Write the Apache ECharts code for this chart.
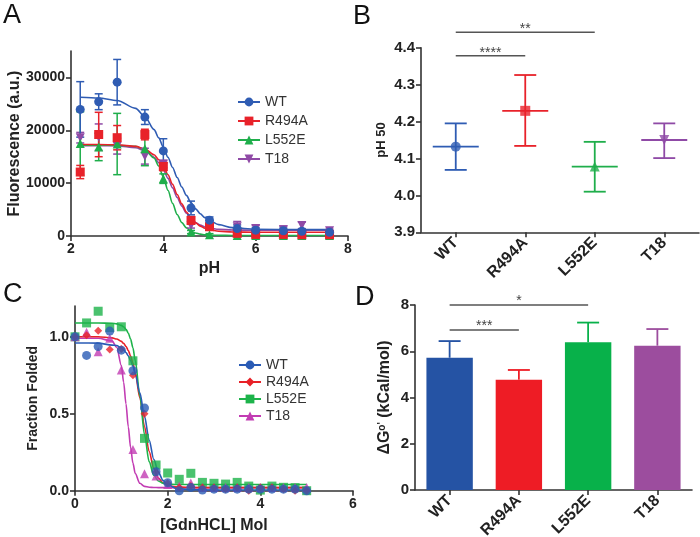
<!DOCTYPE html>
<html><head><meta charset="utf-8">
<script src="https://cdn.jsdelivr.net/npm/echarts@6/dist/echarts.min.js"></script>
<style>html,body{margin:0;padding:0;background:#fff}#c{width:700px;height:537px}</style>
</head><body><div id="c"></div>
<script>
// ---------- Panel A data ----------
const phA = [2.2, 2.6, 3.0, 3.6, 4.0, 4.6, 5.0, 5.6, 6.0, 6.6, 7.0, 7.6];
const wtA = [23950, 25400, 29100, 22500, 16100, 5300, 3000, 1400, 1100, 1000, 900, 700];
const wtAErr = [5250, 1500, 4300, 1400, 2300, 1300, 600, 700, 500, 500, 400, 300];
const r494A = [12100, 19200, 18600, 19200, 13150, 2950, 1750, 500, 300, 300, 250, 250];
const r494AErr = [1250, 4200, 2300, 1000, 800, 700, 400, 300, 200, 200, 200, 200];
const l552A = [17500, 16850, 17400, 16500, 10850, 750, 250, 100, 100, 100, 100, 100];
const l552AErr = [6000, 2600, 5800, 3200, 900, 300, 200, 100, 100, 100, 100, 100];
const t18A = [18600, 18700, 17000, 15100, 13600, 2000, 1700, 1750, 1400, 1200, 2000, 1000];
const t18AErr = [1000, 2500, 1500, 1500, 700, 500, 500, 1000, 600, 700, 600, 300];
// fitted curves
const fitPhA = [2.2, 2.6, 3.0, 3.4, 3.6, 3.8, 3.9, 4.0, 4.1, 4.2, 4.3, 4.4, 4.5, 4.6, 4.7, 4.8, 4.9, 5.0, 5.2, 5.5, 6.0, 7.0, 7.6];
const wtFitA = [26240, 26110, 25640, 24140, 22550, 20120, 18560, 16810, 14900, 12970, 11060, 9270, 7680, 6300, 5140, 4210, 3480, 2920, 2150, 1580, 1280, 1200, 1200];
const r494FitA = [17300, 17300, 17250, 16960, 16470, 15360, 14430, 13170, 11590, 9760, 7860, 6080, 4550, 3360, 2480, 1870, 1460, 1190, 900, 750, 700, 700, 700];
const l552FitA = [17200, 17200, 17180, 16950, 16380, 14770, 13230, 11130, 8650, 6170, 4070, 2530, 1530, 920, 560, 350, 240, 180, 120, 100, 100, 100, 100];
const t18FitA = [17100, 17100, 17050, 16710, 16150, 14910, 13890, 12540, 10910, 9100, 7290, 5660, 4320, 3290, 2550, 2050, 1710, 1490, 1260, 1140, 1100, 1100, 1100];

// ---------- Panel B data ----------
const cats = ['WT', 'R494A', 'L552E', 'T18'];
const pH50 = [4.132, 4.229, 4.078, 4.150];
const pH50Lo = [4.069, 4.134, 4.010, 4.101];
const pH50Hi = [4.195, 4.326, 4.145, 4.195];
const sigBFrom = ['WT', 'WT'];
const sigBTo = ['L552E', 'R494A'];
const sigBLevel = [4.442, 4.378];
const sigBText = ['**', '****'];

// ---------- Panel C data ----------
const gdnC = [0, 0.25, 0.5, 0.75, 1, 1.25, 1.5, 1.75, 2, 2.25, 2.5, 2.75, 3, 3.25, 3.5, 3.75, 4, 4.25, 4.5, 4.75, 5];
const wtC = [1.0, 0.879, 0.937, 1.037, 0.913, 0.779, 0.537, 0.123, 0.052, 0.0, 0.02, 0.004, 0.01, 0.01, 0.01, 0.01, 0.01, 0.01, 0.01, 0.01, 0.0];
const r494C = [1.0, 1.01, 1.04, 0.918, 0.92, 0.75, 0.5, 0.12, 0.05, 0.02, 0.03, 0.02, 0.02, 0.01, 0.02, 0.0, 0.02, 0.02, 0.01, 0.0, 0.0];
const l552C = [1.0, 1.09, 1.166, 1.06, 1.065, 0.844, 0.34, 0.167, 0.115, 0.074, 0.113, 0.054, 0.048, 0.043, 0.054, 0.03, 0.004, 0.03, 0.022, 0.02, 0.0];
const t18C = [1.0, 1.03, 0.903, 0.99, 0.784, 0.268, 0.11, 0.095, 0.04, 0.03, 0.05, 0.02, 0.02, 0.02, 0.02, 0.02, 0.02, 0.02, 0.02, 0.02, 0.02];
const fitGdnC = [0, 0.5, 0.8, 0.9, 1.0, 1.05, 1.1, 1.15, 1.2, 1.25, 1.3, 1.4, 1.5, 1.6, 1.7, 1.8, 1.9, 2.0, 2.2, 2.5, 3.0, 4.0, 5.0];
const wtFitC = [0.96, 0.959, 0.946, 0.943, 0.927, 0.915, 0.898, 0.876, 0.846, 0.808, 0.760, 0.636, 0.483, 0.329, 0.204, 0.119, 0.067, 0.038, 0.014, 0.006, 0.005, 0.005, 0.005];
const r494FitC = [1.0, 1.0, 0.993, 0.986, 0.970, 0.957, 0.938, 0.911, 0.875, 0.827, 0.765, 0.603, 0.417, 0.255, 0.145, 0.082, 0.050, 0.034, 0.023, 0.02, 0.02, 0.02, 0.02];
const l552FitC = [1.09, 1.09, 1.088, 1.084, 1.074, 1.065, 1.049, 1.024, 0.985, 0.928, 0.847, 0.617, 0.365, 0.189, 0.100, 0.063, 0.049, 0.043, 0.040, 0.04, 0.04, 0.04, 0.04];
const t18FitC = [0.99, 0.99, 0.973, 0.932, 0.813, 0.705, 0.565, 0.415, 0.281, 0.180, 0.112, 0.048, 0.028, 0.022, 0.021, 0.02, 0.02, 0.02, 0.02, 0.02, 0.02, 0.02, 0.02];

// ---------- Panel D data ----------
const dG = [5.72, 4.77, 6.39, 6.24];
const dGErr = [0.72, 0.42, 0.85, 0.72];
const sigDFrom = ['WT', 'WT'];
const sigDTo = ['L552E', 'R494A'];
const sigDLevel = [8.0, 6.92];
const sigDText = ['*', '***'];

// ---------- tick labels ----------
const ticksA = [0, 10000, 20000, 30000];
const ticksC = [0, 0.5, 1.0];

// ---------- styles ----------
const FONT = "'Liberation Sans', Arial, Helvetica, sans-serif";
const colA = ['#2f5cb3', '#e8222a', '#1fae4b', '#8f4aa6'];
const colC = ['#2a5bb5', '#e82128', '#1db34a', '#c23cb3'];
const colD = ['#2553a4', '#ee1c25', '#08b14a', '#9c4d9e'];
const symA = ['circle', 'rect', 'triangle', 'path://M0,0L10,0L5,9Z'];
const symC = ['circle', 'diamond', 'rect', 'triangle'];
const AX = '#333';

function axBase(fs) {
  return {
    axisLine: {show: true, onZero: false, lineStyle: {color: AX, width: 1.6}},
    axisTick: {show: true, length: 5, lineStyle: {color: AX, width: 1.6}},
    axisLabel: {color: '#222', fontWeight: 'bold', fontSize: fs, fontFamily: FONT, margin: 6},
    splitLine: {show: false},
    nameLocation: 'middle',
    nameTextStyle: {color: '#222', fontWeight: 'bold', fontFamily: FONT}
  };
}
function merge(a, b) {
  const o = Object.assign({}, a);
  for (const k in b) {
    if (b[k] && typeof b[k] === 'object' && !Array.isArray(b[k]) && o[k] && typeof o[k] === 'object') o[k] = merge(o[k], b[k]);
    else o[k] = b[k];
  }
  return o;
}

function errRenderer(color, w) {
  return function (params, api) {
    const x = api.value(0), lo = api.value(1), hi = api.value(2);
    const a = api.coord([x, hi]), b = api.coord([x, lo]);
    const st = {stroke: color, lineWidth: 1.5};
    return {type: 'group', children: [
      {type: 'line', shape: {x1: a[0], y1: a[1], x2: b[0], y2: b[1]}, style: st},
      {type: 'line', shape: {x1: a[0] - w, y1: a[1], x2: a[0] + w, y2: a[1]}, style: st},
      {type: 'line', shape: {x1: b[0] - w, y1: b[1], x2: b[0] + w, y2: b[1]}, style: st}
    ]};
  };
}
function sigRenderer(toArr, levelArr, textArr, off) {
  return function (params, api) {
    const i = params.dataIndex;
    const a = api.coord([api.value(0), levelArr[i]]);
    const b = api.coord([cats.indexOf(toArr[i]), levelArr[i]]);
    return {type: 'group', children: [
      {type: 'line', shape: {x1: a[0], y1: a[1], x2: b[0], y2: a[1]}, style: {stroke: '#555', lineWidth: 1.5}},
      {type: 'text', x: (a[0] + b[0]) / 2, y: a[1] - off, style: {text: textArr[i], align: 'center', verticalAlign: 'middle', fontSize: 14, fill: '#444', fontFamily: FONT}}
    ]};
  };
}

const series = [];
// ----- Panel A -----
const aVals = [wtA, r494A, l552A, t18A];
const aErrs = [wtAErr, r494AErr, l552AErr, t18AErr];
const aFits = [wtFitA, r494FitA, l552FitA, t18FitA];
const drawOrderA = [3, 2, 1, 0];
drawOrderA.forEach(function (k) {
  series.push({
    type: 'line', name: 'A:' + cats[k], xAxisIndex: 0, yAxisIndex: 0,
    data: fitPhA.map(function (x, i) { return [x, aFits[k][i]]; }),
    smooth: 0.3, smoothMonotone: 'x', showSymbol: false, symbol: symA[k], symbolSize: 9,
    lineStyle: {color: colA[k], width: 1.6}, itemStyle: {color: colA[k]}, z: 2, silent: true
  });
});
drawOrderA.forEach(function (k) {
  series.push({
    type: 'custom', xAxisIndex: 0, yAxisIndex: 0, clip: true, z: 3, silent: true,
    renderItem: errRenderer(colA[k], 4),
    encode: {x: 0, y: [1, 2]},
    data: phA.map(function (x, i) { return [x, aVals[k][i] - aErrs[k][i], aVals[k][i] + aErrs[k][i]]; })
  });
  series.push({
    type: 'scatter', name: 'A pts ' + cats[k], xAxisIndex: 0, yAxisIndex: 0, z: 4, silent: true,
    symbol: symA[k], symbolSize: 9,
    itemStyle: {color: colA[k], opacity: 1},
    data: phA.map(function (x, i) { return [x, aVals[k][i]]; })
  });
});

// ----- Panel B -----
series.push({
  type: 'custom', xAxisIndex: 1, yAxisIndex: 1, z: 3, silent: true,
  encode: {x: 0, y: 1},
  data: pH50.map(function (v, i) { return [i, v]; }),
  renderItem: function (params, api) {
    const i = params.dataIndex;
    const c = api.coord([i, pH50[i]]), hi = api.coord([i, pH50Hi[i]]), lo = api.coord([i, pH50Lo[i]]);
    const st = {stroke: colA[i], lineWidth: 1.8};
    return {type: 'group', children: [
      {type: 'line', shape: {x1: c[0] - 23, y1: c[1], x2: c[0] + 23, y2: c[1]}, style: st},
      {type: 'line', shape: {x1: hi[0], y1: hi[1], x2: lo[0], y2: lo[1]}, style: st},
      {type: 'line', shape: {x1: hi[0] - 11, y1: hi[1], x2: hi[0] + 11, y2: hi[1]}, style: st},
      {type: 'line', shape: {x1: lo[0] - 11, y1: lo[1], x2: lo[0] + 11, y2: lo[1]}, style: st}
    ]};
  }
});
series.push({
  type: 'scatter', xAxisIndex: 1, yAxisIndex: 1, z: 4, silent: true, symbolSize: 10,
  data: pH50.map(function (v, i) { return {value: [i, v], symbol: symA[i], itemStyle: {color: colA[i]}}; })
});
series.push({
  type: 'custom', xAxisIndex: 1, yAxisIndex: 1, z: 5, silent: true, clip: false,
  encode: {x: 0, y: 1},
  data: sigBLevel.map(function (v, i) { return [cats.indexOf(sigBFrom[i]), v]; }),
  renderItem: sigRenderer(sigBTo, sigBLevel, sigBText, 3)
});

// ----- Panel C -----
const cVals = [wtC, r494C, l552C, t18C];
const cFits = [wtFitC, r494FitC, l552FitC, t18FitC];
[3, 1, 2, 0].forEach(function (k) {
  series.push({
    type: 'line', name: 'C:' + cats[k], xAxisIndex: 2, yAxisIndex: 2,
    data: fitGdnC.map(function (x, i) { return [x, cFits[k][i]]; }),
    smooth: 0.3, smoothMonotone: 'x', showSymbol: false, symbol: symC[k], symbolSize: 9,
    lineStyle: {color: colC[k], width: 1.6}, itemStyle: {color: colC[k]}, z: 2, silent: true
  });
});
[2, 3, 1, 0].forEach(function (k) {
  series.push({
    type: 'scatter', xAxisIndex: 2, yAxisIndex: 2, z: 4, silent: true,
    symbol: symC[k], symbolSize: k === 1 ? 8 : 9,
    itemStyle: {color: colC[k]},
    data: gdnC.map(function (x, i) { return [x, cVals[k][i]]; })
  });
});

// ----- Panel D -----
series.push({
  type: 'bar', xAxisIndex: 3, yAxisIndex: 3, barWidth: '67%', z: 2, silent: true,
  data: dG.map(function (v, i) { return {value: v, itemStyle: {color: colD[i]}}; })
});
series.push({
  type: 'custom', xAxisIndex: 3, yAxisIndex: 3, z: 3, silent: true,
  encode: {x: 0, y: 1},
  data: dG.map(function (v, i) { return [i, v]; }),
  renderItem: function (params, api) {
    const i = params.dataIndex;
    const b = api.coord([i, dG[i]]), t = api.coord([i, dG[i] + dGErr[i]]);
    const st = {stroke: colD[i], lineWidth: 1.8};
    return {type: 'group', children: [
      {type: 'line', shape: {x1: b[0], y1: b[1], x2: t[0], y2: t[1]}, style: st},
      {type: 'line', shape: {x1: t[0] - 11, y1: t[1], x2: t[0] + 11, y2: t[1]}, style: st}
    ]};
  }
});
series.push({
  type: 'custom', xAxisIndex: 3, yAxisIndex: 3, z: 5, silent: true, clip: false,
  encode: {x: 0, y: 1},
  data: sigDLevel.map(function (v, i) { return [cats.indexOf(sigDFrom[i]), v]; }),
  renderItem: sigRenderer(sigDTo, sigDLevel, sigDText, 4)
});

const option = {
  animation: false,
  backgroundColor: '#fff',
  textStyle: {fontFamily: FONT},
  grid: [
    {left: 71, top: 51, width: 277, height: 185, outerBoundsMode: 'none'},
    {left: 421, top: 47.7, width: 278, height: 184.6, outerBoundsMode: 'none'},
    {left: 75, top: 306, width: 278, height: 184.7, outerBoundsMode: 'none'},
    {left: 415, top: 305, width: 277, height: 185, outerBoundsMode: 'none'}
  ],
  xAxis: [
    merge(axBase(14), {gridIndex: 0, type: 'value', min: 2, max: 8, interval: 2, name: 'pH', nameGap: 25, nameTextStyle: {fontSize: 16}}),
    merge(axBase(16), {gridIndex: 1, type: 'category', data: cats, boundaryGap: true, axisTick: {alignWithLabel: true}, axisLabel: {rotate: 45, margin: 8}}),
    merge(axBase(14), {gridIndex: 2, type: 'value', min: 0, max: 6, interval: 2, name: '[GdnHCL] Mol', nameGap: 27, nameTextStyle: {fontSize: 16}}),
    merge(axBase(16), {gridIndex: 3, type: 'category', data: cats, boundaryGap: true, axisTick: {alignWithLabel: true}, axisLabel: {rotate: 45, margin: 8}})
  ],
  yAxis: [
    merge(axBase(14), {gridIndex: 0, type: 'value', min: 0, max: 35000, interval: 10000,
      axisLabel: {customValues: ticksA, formatter: function (v) { return String(v); }}, axisTick: {customValues: ticksA},
      name: 'Fluorescence (a.u.)', nameGap: 47, nameTextStyle: {fontSize: 16}}),
    merge(axBase(15), {gridIndex: 1, type: 'value', min: 3.9, max: 4.4, interval: 0.1,
      axisLabel: {formatter: function (v) { return v.toFixed(1); }},
      name: 'pH 50', nameGap: 33, nameTextStyle: {fontSize: 13}}),
    merge(axBase(14), {gridIndex: 2, type: 'value', min: 0, max: 1.2, interval: 0.5,
      axisLabel: {customValues: ticksC, formatter: function (v) { return v.toFixed(1); }}, axisTick: {customValues: ticksC},
      name: 'Fraction Folded', nameGap: 35, nameTextStyle: {fontSize: 14}}),
    merge(axBase(15), {gridIndex: 3, type: 'value', min: 0, max: 8, interval: 2,
      name: "ΔG{s|o'} (kCal/mol)", nameGap: 22,
      nameTextStyle: {fontSize: 16, rich: {s: {fontSize: 10, fontWeight: 'bold', fontFamily: FONT, color: '#222', verticalAlign: 'top'}}}})
  ],
  legend: [
    {data: ['A:WT', 'A:R494A', 'A:L552E', 'A:T18'], orient: 'vertical', left: 232, top: 90,
      itemWidth: 22, itemHeight: 11, itemGap: 5, selectedMode: false,
      textStyle: {fontSize: 14, color: '#333', fontFamily: FONT},
      formatter: function (n) { return n.slice(2); }},
    {data: ['C:WT', 'C:R494A', 'C:L552E', 'C:T18'], orient: 'vertical', left: 233, top: 353,
      itemWidth: 22, itemHeight: 11, itemGap: 3, selectedMode: false,
      textStyle: {fontSize: 14, color: '#333', fontFamily: FONT},
      formatter: function (n) { return n.slice(2); }}
  ],
  graphic: [
    {type: 'text', left: 3, top: 2, style: {text: 'A', fontSize: 27, fill: '#111', fontFamily: FONT}},
    {type: 'text', left: 353, top: 3, style: {text: 'B', fontSize: 27, fill: '#111', fontFamily: FONT}},
    {type: 'text', left: 3, top: 281, style: {text: 'C', fontSize: 27, fill: '#111', fontFamily: FONT}},
    {type: 'text', left: 355, top: 284, style: {text: 'D', fontSize: 27, fill: '#111', fontFamily: FONT}}
  ],
  series: series
};
const chart = echarts.init(document.getElementById('c'), null, {renderer: 'canvas'});
chart.setOption(option);
</script></body></html>
